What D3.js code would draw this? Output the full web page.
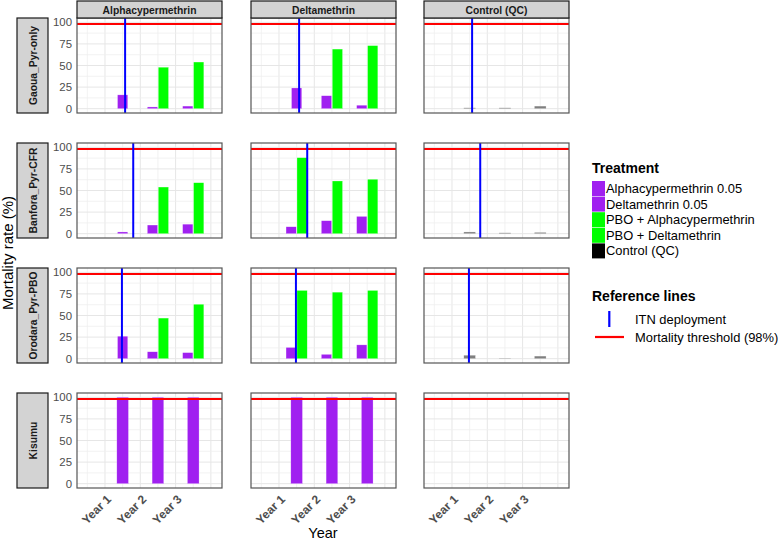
<!DOCTYPE html>
<html>
<head>
<meta charset="utf-8">
<script src="https://cdn.jsdelivr.net/npm/d3@7"></script>
<style>
  body { margin: 0; background: #fff; }
  svg { font-family: "Liberation Sans", Arial, sans-serif; }
</style>
</head>
<body>
<svg id="chart" width="778" height="542"></svg>
<script>
// ---- data ----
const sites = ["Gaoua_Pyr-only", "Banfora_Pyr-CFR", "Orodara_Pyr-PBO", "Kisumu"];
const panels = ["Alphacypermethrin", "Deltamethrin", "Control (QC)"];
const years = ["Year 1", "Year 2", "Year 3"];
const yTicks = [0, 25, 50, 75, 100];
const threshold = 98;
// ITN deployment position (x units, Year 1 = 1)
const itnDeploy = [1.57, 1.8, 1.48, null];

// mortality (%) per site x year, null = not tested
const alphaPyr = [[16, 2, 3], [2, 10, 11], [26, 8, 7], [100, 100, 100]];
const alphaPbo = [[null, 48, 54], [null, 54, 59], [null, 47, 63], [null, null, null]];
const deltaPyr = [[24, 15, 4], [8, 15, 20], [13, 5, 16], [100, 100, 100]];
const deltaPbo = [[null, 69, 73], [88, 61, 63], [79, 77, 79], [null, null, null]];
const controlQC = [[1, 1, 3], [2, 1, 1.5], [4, 0.5, 3], [0, 0.3, 0]];

const treatments = ["Alphacypermethrin 0.05", "Deltamethrin 0.05", "PBO + Alphacypermethrin", "PBO + Deltamethrin", "Control (QC)"];
const treatColors = ["#A020F0", "#A020F0", "#00FF00", "#00FF00", "#000000"];

// ---- layout ----
const svg = d3.select("#chart");
const colX = [77, 251, 424];
const rowY = [18, 143, 268, 393];
const pw = 145, ph = 95;

const x = d3.scaleLinear().domain([0.207, 4.315]).range([0, pw]);
const y = d3.scaleLinear().domain([-5, 105]).range([ph, 0]);

function barsFor(col, s) {
  const out = [];
  years.forEach((yr, i) => {
    const xc = i + 1.5;
    if (col === 2) {
      out.push({ x0: xc - 0.165, x1: xc + 0.165, v: controlQC[s][i], c: "#7f7f7f" });
      return;
    }
    const pyr = col === 0 ? alphaPyr[s][i] : deltaPyr[s][i];
    const pbo = col === 0 ? alphaPbo[s][i] : deltaPbo[s][i];
    if (pyr != null && pbo != null) {
      out.push({ x0: xc - 0.3, x1: xc - 0.01, v: pyr, c: "#A020F0" });
      out.push({ x0: xc + 0.01, x1: xc + 0.3, v: pbo, c: "#00FF00" });
    } else if (pyr != null) {
      const w = s === 3 ? 0.165 : 0.145;
      out.push({ x0: xc - w, x1: xc + w, v: pyr, c: "#A020F0" });
    }
  });
  return out;
}

sites.forEach((site, s) => {
  // left strip
  const ls = svg.append("g").attr("transform", `translate(17,${rowY[s]})`);
  ls.append("rect").attr("width", 31).attr("height", ph)
    .attr("fill", "#D3D3D3").attr("stroke", "#1a1a1a").attr("stroke-width", 1.2);
  ls.append("text")
    .attr("transform", `translate(19.5,${ph / 2}) rotate(-90)`)
    .attr("text-anchor", "middle")
    .attr("font-size", 10.3).attr("font-weight", "bold").attr("fill", "#1a1a1a")
    .text(site);

  panels.forEach((pn, col) => {
    const g = svg.append("g").attr("transform", `translate(${colX[col]},${rowY[s]})`);

    // grid
    const xGrid = [0.5, 1, 1.5, 2, 2.5, 3, 3.5, 4];
    const yGrid = [0, 12.5, 25, 37.5, 50, 62.5, 75, 87.5, 100];
    g.selectAll(".gx").data(xGrid).join("line")
      .attr("x1", d => x(d)).attr("x2", d => x(d)).attr("y1", 0).attr("y2", ph)
      .attr("stroke", d => d % 1 === 0 ? "#e6e6e6" : "#efefef").attr("stroke-width", d => d % 1 === 0 ? 1 : 0.8);
    g.selectAll(".gy").data(yGrid).join("line")
      .attr("x1", 0).attr("x2", pw).attr("y1", d => y(d)).attr("y2", d => y(d))
      .attr("stroke", d => d % 25 === 0 ? "#e6e6e6" : "#efefef").attr("stroke-width", d => d % 25 === 0 ? 1 : 0.8);

    // bars
    g.selectAll(".bar").data(barsFor(col, s).filter(b => b.v > 0)).join("rect")
      .attr("x", b => x(b.x0)).attr("width", b => x(b.x1) - x(b.x0))
      .attr("y", b => y(b.v)).attr("height", b => y(0) - y(b.v))
      .attr("fill", b => b.c).attr("stroke", "#ffffff").attr("stroke-opacity", 0.5).attr("stroke-width", 0.5);

    // threshold
    g.append("line").attr("x1", 0).attr("x2", pw)
      .attr("y1", y(threshold)).attr("y2", y(threshold))
      .attr("stroke", "#FF0000").attr("stroke-width", 2);

    // ITN deployment
    if (itnDeploy[s] != null) {
      g.append("line")
        .attr("x1", x(itnDeploy[s])).attr("x2", x(itnDeploy[s]))
        .attr("y1", 0).attr("y2", ph)
        .attr("stroke", "#0000FF").attr("stroke-width", 2);
    }

    // panel border
    g.append("rect").attr("width", pw).attr("height", ph)
      .attr("fill", "none").attr("stroke", "#555").attr("stroke-width", 1.2);

    // top strip
    if (s === 0) {
      const ts = svg.append("g").attr("transform", `translate(${colX[col]},1)`);
      ts.append("rect").attr("width", pw).attr("height", 17)
        .attr("fill", "#D3D3D3").attr("stroke", "#1a1a1a").attr("stroke-width", 1.2);
      ts.append("text").attr("x", pw / 2).attr("y", 12.5)
        .attr("text-anchor", "middle").attr("font-size", 10.3)
        .attr("font-weight", "bold").attr("fill", "#1a1a1a").text(pn);
    }

    // y axis on first column
    if (col === 0) {
      const ya = g.append("g").call(d3.axisLeft(y).tickValues(yTicks).tickSize(0).tickPadding(5));
      ya.select(".domain").remove();
      ya.selectAll("text").attr("font-size", 11.4).attr("fill", "#4d4d4d")
        .attr("font-family", "Liberation Sans, Arial, sans-serif");
    }

    // x axis on last row
    if (s === sites.length - 1) {
      const xa = g.append("g").attr("transform", `translate(0,${ph})`);
      xa.selectAll("text").data(years).join("text")
        .attr("transform", (d, i) => `translate(${x(i + 1) + 1},${6}) rotate(-45)`)
        .attr("text-anchor", "end")
        .attr("dy", "0.7em")
        .attr("font-size", 12).attr("font-weight", "bold").attr("fill", "#4d4d4d")
        .text(d => d);
    }
  });
});

// axis titles
svg.append("text")
  .attr("transform", `translate(13,253) rotate(-90)`)
  .attr("text-anchor", "middle").attr("font-size", 15).attr("fill", "#000")
  .text("Mortality rate (%)");
svg.append("text")
  .attr("x", 323).attr("y", 538)
  .attr("text-anchor", "middle").attr("font-size", 14.5).attr("fill", "#000")
  .text("Year");

// legend: treatment
const lg = svg.append("g").attr("transform", "translate(592,0)");
lg.append("text").attr("x", 0).attr("y", 173).attr("font-size", 14)
  .attr("font-weight", "bold").text("Treatment");
treatments.forEach((t, i) => {
  const yy = 181 + i * 15.6;
  lg.append("rect").attr("x", 0).attr("y", yy).attr("width", 13).attr("height", 15)
    .attr("fill", treatColors[i]);
  lg.append("text").attr("x", 14).attr("y", yy + 12).attr("font-size", 12.9)
    .attr("fill", "#000").text(t);
});

// legend: reference lines
lg.append("text").attr("x", 0).attr("y", 301).attr("font-size", 14)
  .attr("font-weight", "bold").text("Reference lines");
lg.append("line").attr("x1", 17.3).attr("x2", 17.3).attr("y1", 311).attr("y2", 327)
  .attr("stroke", "#0000FF").attr("stroke-width", 2.2);
lg.append("text").attr("x", 43).attr("y", 323.5).attr("font-size", 12.9).text("ITN deployment");
lg.append("line").attr("x1", 3).attr("x2", 32).attr("y1", 337).attr("y2", 337)
  .attr("stroke", "#FF0000").attr("stroke-width", 2.2);
lg.append("text").attr("x", 43).attr("y", 341.5).attr("font-size", 12.9).text("Mortality threshold (98%)");
</script>
</body>
</html>
